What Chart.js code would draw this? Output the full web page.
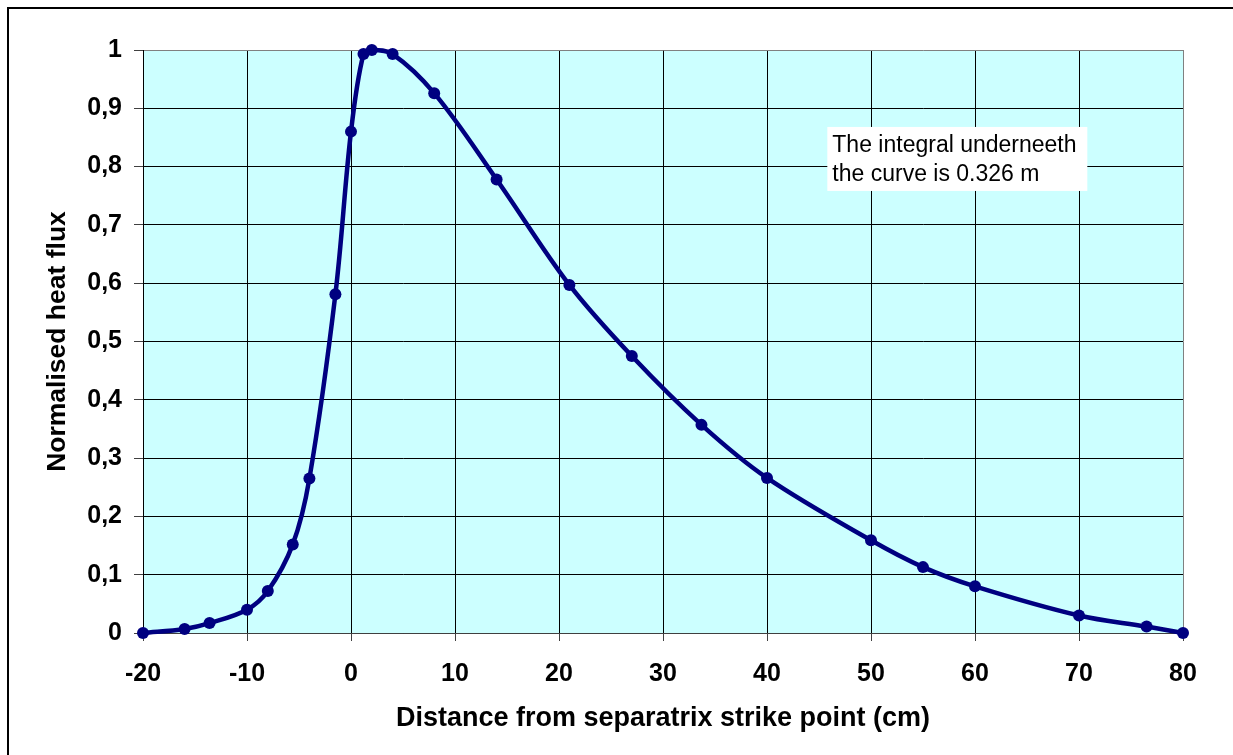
<!DOCTYPE html>
<html>
<head>
<meta charset="utf-8">
<script src="https://cdn.jsdelivr.net/npm/chart.js@4/dist/chart.umd.min.js"></script>
<style>
  html, body { margin: 0; padding: 0; background: #fff; }
  canvas { display: block; }
</style>
</head>
<body>
<canvas id="fluxChart" width="1233" height="755"></canvas>
<script>
// distance from strike point (cm) and normalised heat flux
var distance = [-20, -16, -13.6, -10, -8, -5.6, -4, -1.5, 0, 1.2, 2, 4, 8, 14, 21, 27, 33.7, 40, 50, 55, 60, 70, 76.5, 80];
var heatFlux = [0, 0.007, 0.017, 0.04, 0.072, 0.152, 0.265, 0.581, 0.86, 0.993, 1.0, 0.993, 0.926, 0.778, 0.597, 0.475, 0.357, 0.266, 0.159, 0.113, 0.08, 0.03, 0.011, 0];

var xTickLabels = ['-20', '-10', '0', '10', '20', '30', '40', '50', '60', '70', '80'];
var yTickLabels = ['0', '0,1', '0,2', '0,3', '0,4', '0,5', '0,6', '0,7', '0,8', '0,9', '1'];

var noteLines = ['The integral underneeth', 'the curve is 0.326 m'];

var FONT = '"Liberation Sans", Arial, sans-serif';

// cyan plot background, frame lines and the text box
var decor = {
  id: 'decor',
  beforeDraw: function (chart) {
    var ctx = chart.ctx, a = chart.chartArea;
    ctx.save();
    ctx.fillStyle = '#fff';
    ctx.fillRect(0, 0, chart.width, chart.height);
    ctx.fillStyle = '#000';
    ctx.fillRect(7, 7, 2, chart.height);
    ctx.fillRect(7, 7, chart.width, 2);
    ctx.fillStyle = '#CCFFFF';
    ctx.fillRect(a.left, a.top, a.right - a.left, a.bottom - a.top);
    ctx.restore();
  },
  afterDatasetsDraw: function (chart) {
    var ctx = chart.ctx;
    var x = chart.scales.x.getPixelForValue(45.8);
    var y = chart.scales.y.getPixelForValue(0.868);
    ctx.save();
    ctx.fillStyle = '#fff';
    ctx.fillRect(x, y, 260, 64);
    ctx.fillStyle = '#000';
    ctx.font = '23px ' + FONT;
    ctx.textBaseline = 'alphabetic';
    noteLines.forEach(function (t, i) {
      ctx.fillText(t, x + 5, y + 25 + i * 29);
    });
    ctx.restore();
  }
};

var ctx = document.getElementById('fluxChart').getContext('2d');
var chart = new Chart(ctx, {
  type: 'line',
  data: {
    datasets: [{
      data: distance.map(function (d, i) { return { x: d, y: heatFlux[i] }; }),
      borderColor: '#000080',
      backgroundColor: '#000080',
      borderWidth: 4.5,
      pointRadius: 6,
      pointBackgroundColor: '#000080',
      pointBorderWidth: 0,
      tension: 0.35,
      clip: false
    }]
  },
  options: {
    responsive: false,
    animation: false,
    events: [],
    layout: { padding: { left: 0, top: 50, right: 50, bottom: 0 } },
    plugins: { legend: { display: false }, tooltip: { enabled: false } },
    scales: {
      x: {
        type: 'linear',
        min: -20,
        max: 80,
        afterFit: function (s) { s.height = 122; },
        ticks: {
          stepSize: 10,
          padding: 21,
          maxRotation: 0,
          color: '#000',
          font: { family: FONT, size: 25, weight: 'bold', lineHeight: 1 },
          callback: function (v, i) { return xTickLabels[i]; }
        },
        grid: {
          color: function (c) { return c.index === xTickLabels.length - 1 ? '#808080' : '#000'; },
          tickColor: '#404040',
          tickLength: 8,
          lineWidth: 1
        },
        border: { color: '#404040', width: 1 },
        title: {
          display: true,
          text: 'Distance from separatrix strike point (cm)',
          color: '#000',
          font: { family: FONT, size: 27, weight: 'bold', lineHeight: 1 },
          padding: { top: 0, bottom: 23 }
        }
      },
      y: {
        min: 0,
        max: 1,
        afterFit: function (s) { s.width = 143; },
        ticks: {
          stepSize: 0.1,
          padding: 12,
          color: '#000',
          font: { family: FONT, size: 25, weight: 'bold', lineHeight: 1 },
          callback: function (v, i) { return yTickLabels[i]; }
        },
        grid: {
          color: function (c) { return c.index === yTickLabels.length - 1 ? '#808080' : '#000'; },
          tickColor: '#404040',
          tickLength: 9,
          lineWidth: 1
        },
        border: { color: '#000', width: 1 },
        title: {
          display: true,
          text: 'Normalised heat flux',
          color: '#000',
          font: { family: FONT, size: 26.5, weight: 'bold', lineHeight: 1 },
          padding: { top: 44, bottom: 0 }
        }
      }
    }
  },
  plugins: [decor]
});
</script>
</body>
</html>
